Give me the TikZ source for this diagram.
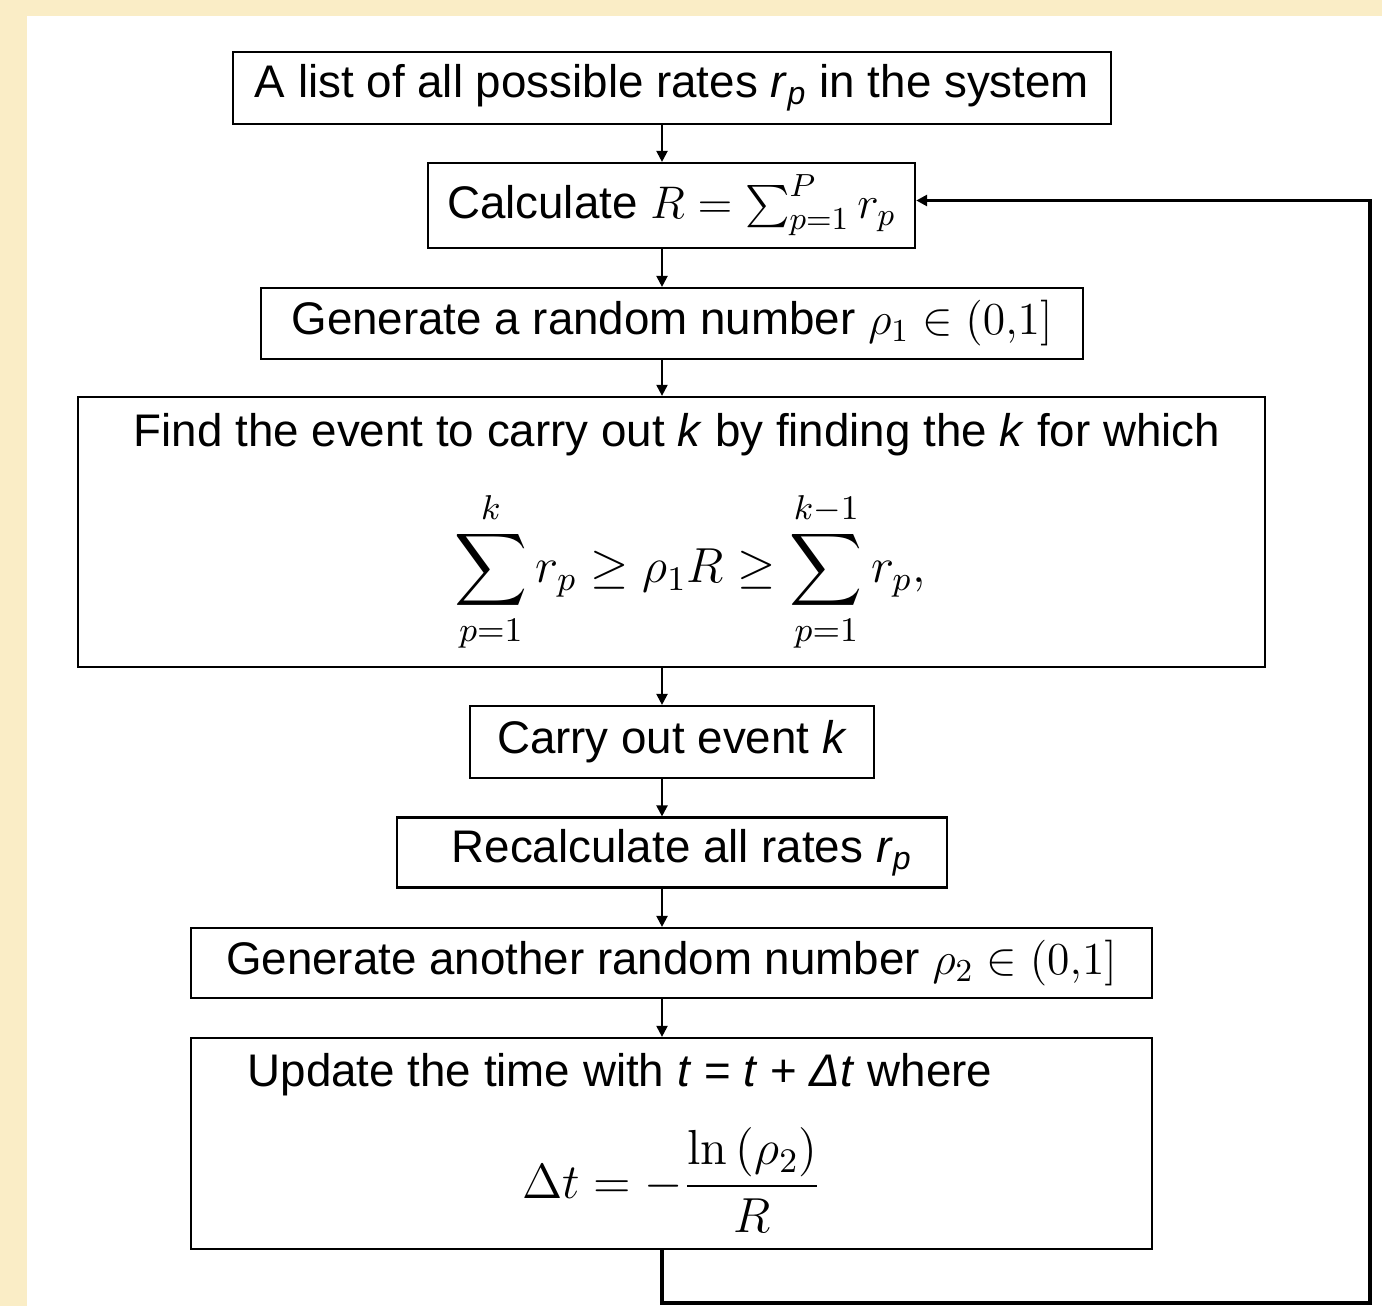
\RequirePackage{fix-cm}
\documentclass[tikz,border=0pt]{standalone}
\usepackage{amsmath}
\usepackage[no-math]{fontspec}
\setmainfont{Liberation Sans}
\usetikzlibrary{arrows.meta,positioning,calc}
\definecolor{paperCream}{RGB}{250,237,198}

\begin{document}
\begin{tikzpicture}[x=0.01cm,y=-0.01cm,
  flow/.style={draw,line width=0.6pt,inner sep=0pt,font=\fontsize{13}{15.6}\selectfont},
  txt/.style={inner sep=0pt,font=\fontsize{13}{15.6}\selectfont},
  bigeq/.style={inner sep=0pt,font=\fontsize{14}{17}\selectfont},
  arrow/.style={-{Triangle[length=1.1mm,width=1.1mm]},line width=0.6pt},
  back/.style={arrow,line width=1pt}
]
  \fill[paperCream] (0,0) rectangle (1382,1306);
  \fill[white] (27,16) rectangle (1382,1306);
  \useasboundingbox (0,0) rectangle (1382,1306);

  \node[flow,minimum width=8.78cm,minimum height=0.72cm] (rates) at (672,88) {A list of all possible rates \textit{r}\textsubscript{\textit{p}} in the system};
  \node[flow,minimum width=4.87cm,minimum height=0.85cm] (calc) at (671.5,205.5) {Calculate $R = \sum_{p=1}^{P} r_p$};
  \node[flow,minimum width=8.22cm,minimum height=0.71cm] (rand1) at (672,323.5) {Generate a random number $\rho_1 \in (0{,}1]$};
  \node[flow,minimum width=11.87cm,minimum height=2.70cm] (find) at (671.5,532) {};
  \node[txt] (findtxt) at (677,435) {Find the event to carry out \textit{k} by finding the \textit{k} for which};
  \node[bigeq] (findeq) at (690,572) {$\displaystyle \sum_{p=1}^{k} r_p \geq \rho_1 R \geq \sum_{p=1}^{k-1} r_p,$};
  \node[flow,minimum width=4.03cm,minimum height=0.72cm] (carry) at (672,742) {Carry out event \textit{k}};
  \node[flow,minimum width=5.50cm,minimum height=0.70cm] (recalc) at (672,852.5) {\hspace{0.2cm}Recalculate all rates \textit{r}\textsubscript{\textit{p}}};
  \node[flow,minimum width=9.61cm,minimum height=0.70cm] (rand2) at (671.5,963) {Generate another random number $\rho_2 \in (0{,}1]$};
  \node[flow,minimum width=9.61cm,minimum height=2.11cm] (update) at (671.5,1143.5) {};
  \node[txt,anchor=west] (updtxt) at (247,1075) {Update the time with \textit{t} = \textit{t} + \textit{Δt} where};
  \node[bigeq] (updeq) at (672,1180) {$\displaystyle \Delta t = -\frac{\ln\,(\rho_2)}{R}$};

  \coordinate (spine) at (662,0);
  \coordinate (loopcorner) at (1370,1303);

  \foreach \a/\b in {rates/calc,calc/rand1,rand1/find,find/carry,carry/recalc,recalc/rand2,rand2/update}
    \draw[arrow] (\a.south -| spine) -- (\b.north -| spine);
  \draw[back] (update.south -| spine) |- (loopcorner) |- ([yshift=0.05cm]calc.east);
\end{tikzpicture}
\end{document}
